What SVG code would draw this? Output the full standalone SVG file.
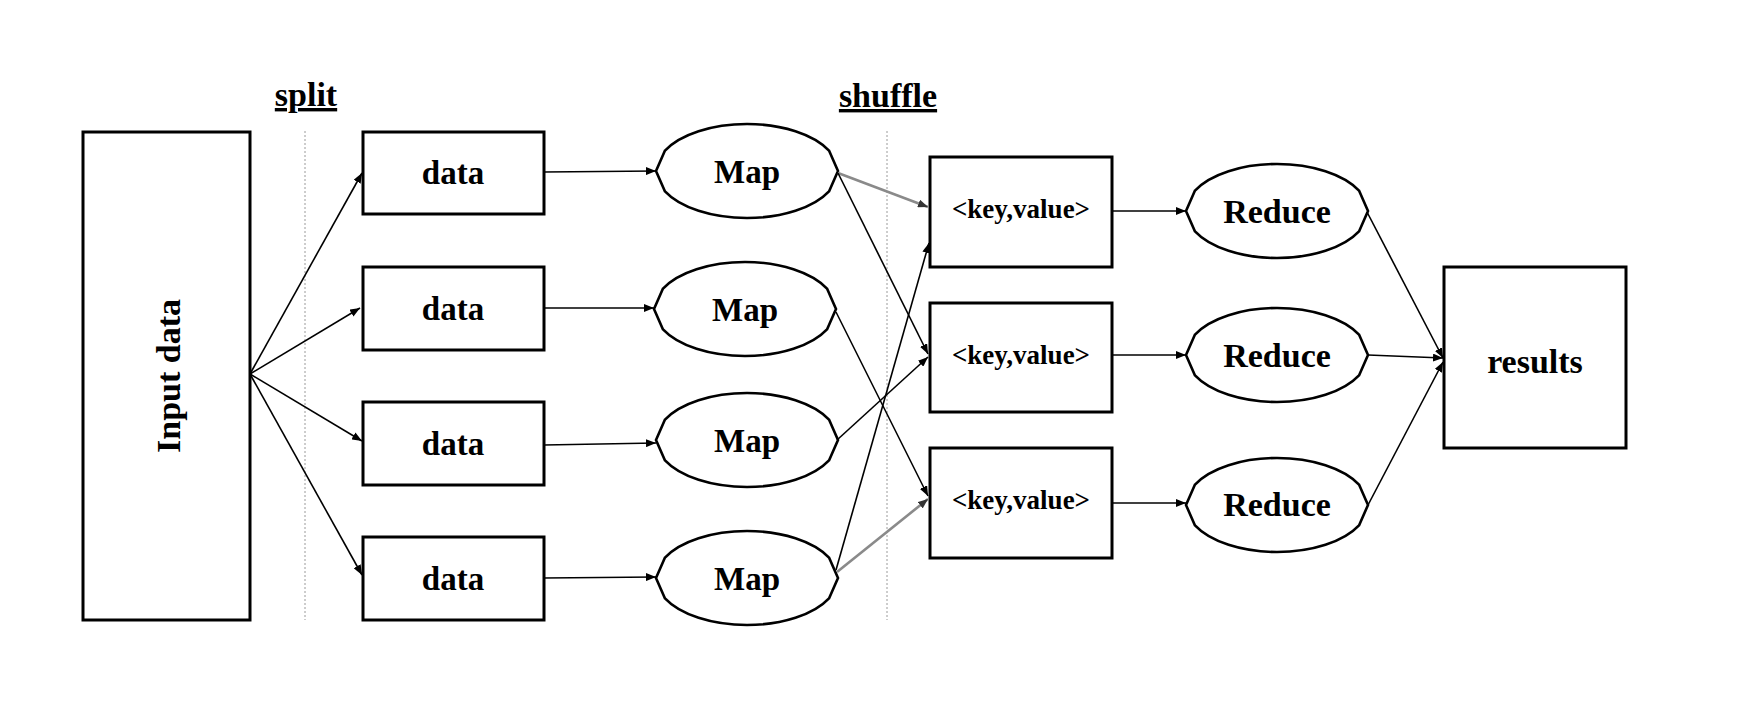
<svg xmlns="http://www.w3.org/2000/svg" xmlns:xlink="http://www.w3.org/1999/xlink" width="1762" height="708" viewBox="0 0 1762 708">
<style>
.box{fill:#fff;stroke:#000;stroke-width:3}
.oval{fill:#fff;stroke:#000;stroke-width:2.6}
.t{font-family:"Liberation Serif","Times New Roman",serif;font-weight:bold;fill:#000;text-anchor:middle}
.big{font-size:34px}
.mid{font-size:33px}
.kv{font-size:27px}
.conn{fill:none;stroke:#000;stroke-width:1.6}
.gray{fill:none;stroke:#8a8a8a;stroke-width:2.6}
.sep{stroke:#9a9a9a;stroke-width:1;stroke-dasharray:2 2}
</style>
<defs>
<marker id="ah" viewBox="0 0 10 8" refX="10" refY="4" markerWidth="10" markerHeight="8" markerUnits="userSpaceOnUse" orient="auto">
<path d="M0,0 L10,4 L0,8 Z" fill="#000"/>
</marker>
<marker id="ahg" viewBox="0 0 10 8" refX="10" refY="4" markerWidth="10" markerHeight="8" markerUnits="userSpaceOnUse" orient="auto">
<path d="M0,0 L10,4 L0,8 Z" fill="#333"/>
</marker>
<path id="ov" d="M -91 0 L -82 -20.4 A 91 47 0 0 1 82 -20.4 L 91 0 L 82 20.4 A 91 47 0 0 1 -82 20.4 Z"/>
</defs>
<rect width="1762" height="708" fill="#fff"/>

<g id="labels">
<text class="t big" x="306" y="106" text-decoration="underline">split</text>
<text class="t big" x="888" y="107" text-decoration="underline">shuffle</text>
<line class="sep" x1="305" y1="131" x2="305" y2="620"/>
<line class="sep" x1="887" y1="131" x2="887" y2="620"/>
</g>

<g id="input">
<rect class="box" x="83" y="132" width="167" height="488"/>
<text class="t big" transform="translate(180,376) rotate(-90)">Input data</text>
</g>

<g id="data1"><rect class="box" x="363" y="132" width="181" height="82"/><text class="t mid" x="453" y="184">data</text></g>
<g id="data2"><rect class="box" x="363" y="267" width="181" height="83"/><text class="t mid" x="453" y="320">data</text></g>
<g id="data3"><rect class="box" x="363" y="402" width="181" height="83"/><text class="t mid" x="453" y="455">data</text></g>
<g id="data4"><rect class="box" x="363" y="537" width="181" height="83"/><text class="t mid" x="453" y="590">data</text></g>

<g id="map1"><use href="#ov" class="oval" transform="translate(747,171)"/><text class="t mid" x="747" y="183">Map</text></g>
<g id="map2"><use href="#ov" class="oval" transform="translate(745,309)"/><text class="t mid" x="745" y="321">Map</text></g>
<g id="map3"><use href="#ov" class="oval" transform="translate(747,440)"/><text class="t mid" x="747" y="452">Map</text></g>
<g id="map4"><use href="#ov" class="oval" transform="translate(747,578)"/><text class="t mid" x="747" y="590">Map</text></g>

<g id="kv1"><rect class="box" x="930" y="157" width="182" height="110"/><text class="t kv" x="1021" y="218">&lt;key,value&gt;</text></g>
<g id="kv2"><rect class="box" x="930" y="303" width="182" height="109"/><text class="t kv" x="1021" y="364">&lt;key,value&gt;</text></g>
<g id="kv3"><rect class="box" x="930" y="448" width="182" height="110"/><text class="t kv" x="1021" y="509">&lt;key,value&gt;</text></g>

<g id="reduce1"><use href="#ov" class="oval" transform="translate(1277,211)"/><text class="t big" x="1277" y="223">Reduce</text></g>
<g id="reduce2"><use href="#ov" class="oval" transform="translate(1277,355)"/><text class="t big" x="1277" y="367">Reduce</text></g>
<g id="reduce3"><use href="#ov" class="oval" transform="translate(1277,505)"/><text class="t big" x="1277" y="516">Reduce</text></g>

<g id="results"><rect class="box" x="1444" y="267" width="182" height="181"/><text class="t big" x="1535" y="373">results</text></g>

<g id="connectors">
<line class="conn" x1="250" y1="374" x2="362" y2="173" marker-end="url(#ah)"/>
<line class="conn" x1="250" y1="374" x2="360" y2="308" marker-end="url(#ah)"/>
<line class="conn" x1="250" y1="374" x2="362" y2="441" marker-end="url(#ah)"/>
<line class="conn" x1="250" y1="374" x2="362" y2="575" marker-end="url(#ah)"/>

<line class="conn" x1="544" y1="172" x2="656" y2="171" marker-end="url(#ah)"/>
<line class="conn" x1="544" y1="308" x2="654" y2="308" marker-end="url(#ah)"/>
<line class="conn" x1="544" y1="445" x2="656" y2="443" marker-end="url(#ah)"/>
<line class="conn" x1="544" y1="578" x2="656" y2="577" marker-end="url(#ah)"/>

<line class="gray" x1="838" y1="173" x2="928" y2="207" marker-end="url(#ahg)"/>
<line class="conn" x1="838" y1="173" x2="928" y2="354" marker-end="url(#ah)"/>
<line class="conn" x1="836" y1="312" x2="928" y2="496" marker-end="url(#ah)"/>
<line class="conn" x1="837" y1="440" x2="928" y2="357" marker-end="url(#ah)"/>
<line class="conn" x1="836" y1="570" x2="929" y2="243" marker-end="url(#ah)"/>
<line class="gray" x1="837" y1="572" x2="928" y2="499" marker-end="url(#ahg)"/>

<line class="conn" x1="1112" y1="211" x2="1186" y2="211" marker-end="url(#ah)"/>
<line class="conn" x1="1112" y1="355" x2="1186" y2="355" marker-end="url(#ah)"/>
<line class="conn" x1="1112" y1="503" x2="1186" y2="503" marker-end="url(#ah)"/>

<line class="conn" x1="1367" y1="212" x2="1443" y2="358" marker-end="url(#ah)"/>
<line class="conn" x1="1368" y1="355" x2="1443" y2="358" marker-end="url(#ah)"/>
<line class="conn" x1="1368" y1="505" x2="1443" y2="362" marker-end="url(#ah)"/>
</g>
</svg>
